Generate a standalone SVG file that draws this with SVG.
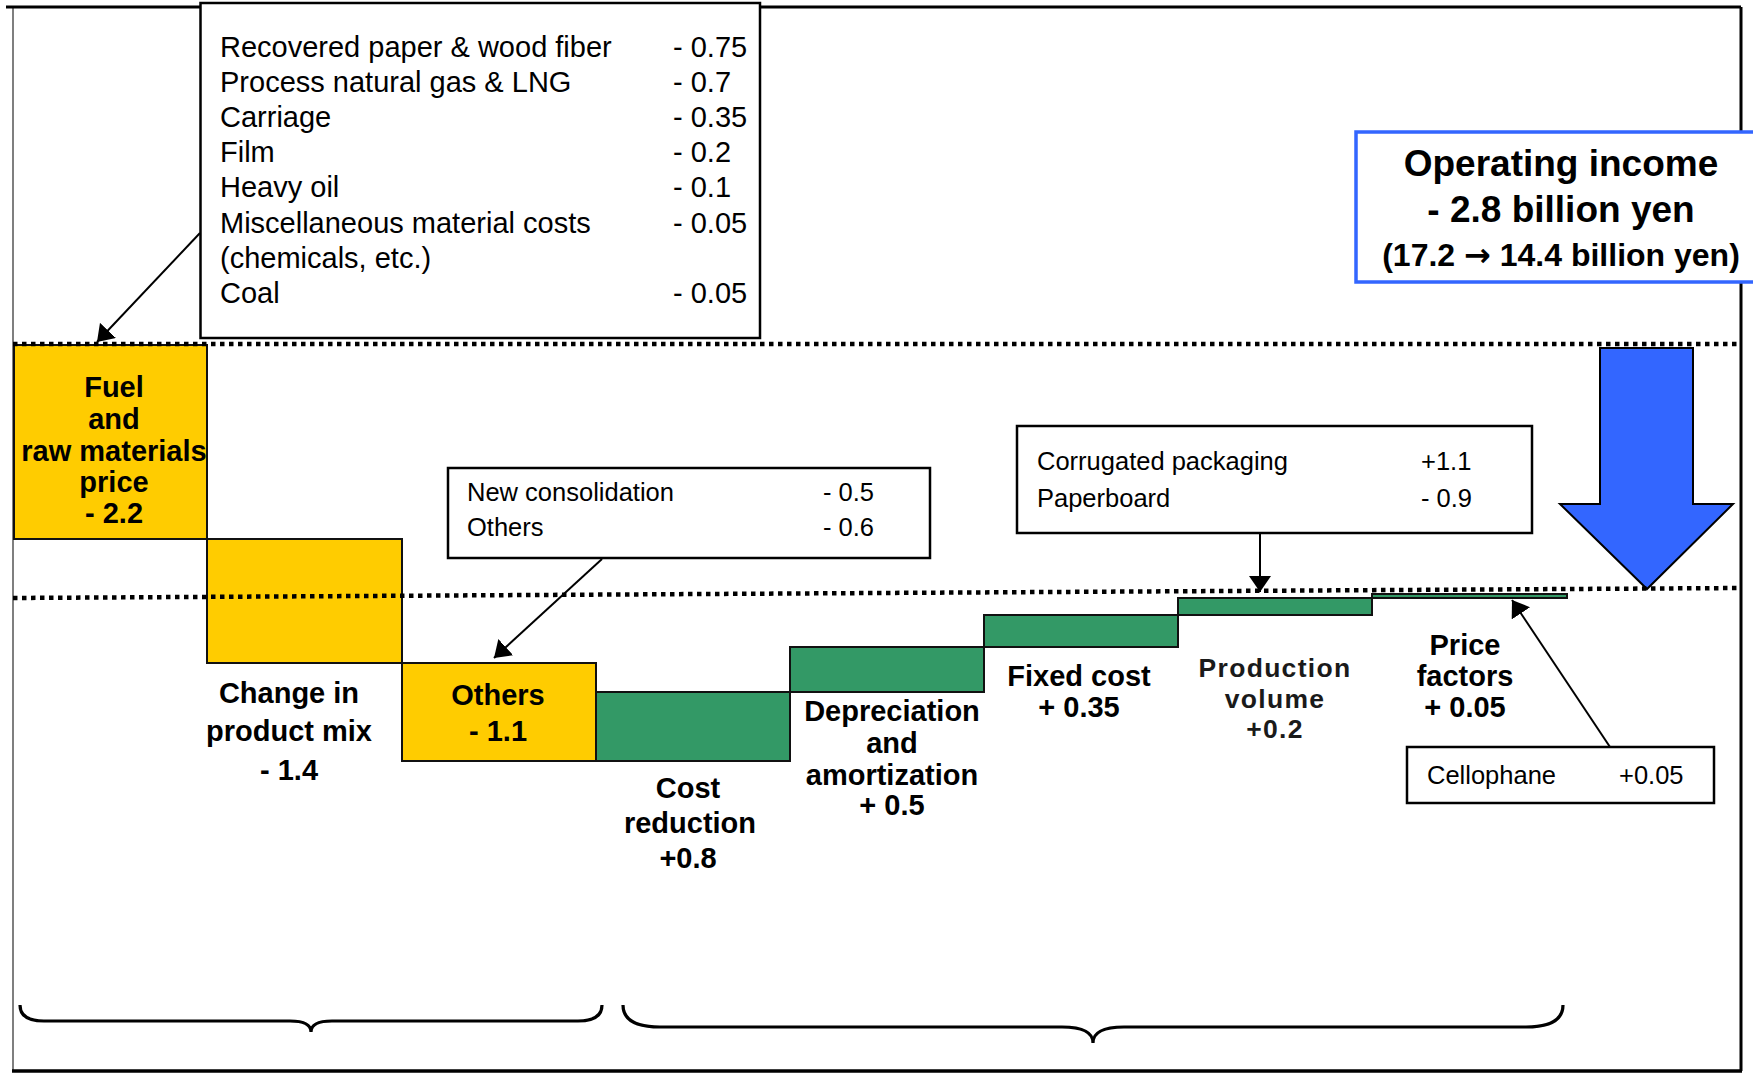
<svg xmlns="http://www.w3.org/2000/svg" width="1753" height="1073" viewBox="0 0 1753 1073">
<style>
  text { font-family: "Liberation Sans", Arial, Helvetica, sans-serif; fill: #000; }
  .reg { font-size: 29px; }
  .sm { font-size: 25.5px; }
  .lbl { font-size: 29px; font-weight: bold; text-anchor: middle; }
  .pv { font-size: 26.5px; font-weight: bold; text-anchor: middle; letter-spacing: 1.3px; fill: #1a1a1a; }
  .ttl { font-weight: bold; text-anchor: middle; }
  .arr { font-family: "DejaVu Sans", sans-serif; font-weight: bold; }
  .box { fill: #fff; stroke: #000; stroke-width: 2.5; }
  .yel { fill: #FFCC00; stroke: #111; stroke-width: 2; }
  .grn { fill: #339966; stroke: #111; stroke-width: 2; }
  .dot { fill: none; stroke: #000; stroke-width: 4.5; stroke-dasharray: 4.5 4.5; }
  .conn { fill: none; stroke: #000; stroke-width: 2; }
  .brace { fill: none; stroke: #000; stroke-width: 3.2; }
</style>
<defs>
  <marker id="ah" viewBox="0 0 16 22" markerWidth="16" markerHeight="22" refX="16" refY="11" orient="auto" markerUnits="userSpaceOnUse">
    <path d="M0,0 L16,11 L0,22 z" fill="#000"/>
  </marker>
</defs>
<rect width="1753" height="1073" fill="#fff"/>

<!-- frame -->
<g id="frame">
  <line x1="13" y1="7" x2="13" y2="1071" stroke="#555" stroke-width="1.5"/>
  <line x1="6" y1="7" x2="1741" y2="7" stroke="#000" stroke-width="3"/>
  <line x1="1741" y1="7" x2="1741" y2="1071" stroke="#000" stroke-width="3"/>
  <line x1="12" y1="1071" x2="1742" y2="1071" stroke="#000" stroke-width="3.5"/>
</g>

<!-- bars -->
<g id="bar-fuel"><rect class="yel" x="14" y="345" width="193" height="194"/></g>
<g id="bar-mix"><rect class="yel" x="207" y="539" width="195" height="124"/></g>
<g id="bar-others"><rect class="yel" x="402" y="663" width="194" height="98"/></g>
<g id="bar-cost"><rect class="grn" x="596" y="692" width="194" height="69"/></g>
<g id="bar-dep"><rect class="grn" x="790" y="647" width="194" height="45"/></g>
<g id="bar-fixed"><rect class="grn" x="984" y="615" width="194" height="32"/></g>
<g id="bar-prod"><rect class="grn" x="1178" y="598" width="194" height="17"/></g>
<g id="bar-price"><rect class="grn" x="1372" y="594" width="195" height="4"/></g>

<!-- blue arrow -->
<g id="total-arrow">
  <polygon points="1600,348 1693,348 1693,504 1733,504 1647,589 1560,504 1600,504" fill="#3366FF" stroke="#000" stroke-width="2"/>
</g>

<!-- dotted reference lines -->
<g id="reference-lines">
  <line class="dot" x1="13" y1="344" x2="1741" y2="344"/>
  <line class="dot" x1="13" y1="598" x2="1741" y2="588"/>
</g>

<!-- callout boxes -->
<g id="materials-box">
  <rect class="box" x="200.5" y="3" width="559.5" height="335"/>
  <text class="reg" x="220" y="57">Recovered paper &amp; wood fiber</text>
  <text class="reg" x="673" y="57">- 0.75</text>
  <text class="reg" x="220" y="92">Process natural gas &amp; LNG</text>
  <text class="reg" x="673" y="92">- 0.7</text>
  <text class="reg" x="220" y="127">Carriage</text>
  <text class="reg" x="673" y="127">- 0.35</text>
  <text class="reg" x="220" y="162">Film</text>
  <text class="reg" x="673" y="162">- 0.2</text>
  <text class="reg" x="220" y="197">Heavy oil</text>
  <text class="reg" x="673" y="197">- 0.1</text>
  <text class="reg" x="220" y="233">Miscellaneous material costs</text>
  <text class="reg" x="673" y="233">- 0.05</text>
  <text class="reg" x="220" y="268">(chemicals, etc.)</text>
  <text class="reg" x="220" y="303">Coal</text>
  <text class="reg" x="673" y="303">- 0.05</text>
</g>

<g id="operating-income">
  <rect x="1356" y="132" width="410" height="150" fill="#fff" stroke="#3366FF" stroke-width="3.5"/>
  <text class="ttl" x="1561" y="176" font-size="37">Operating income</text>
  <text class="ttl" x="1561" y="222" font-size="37">- 2.8 billion yen</text>
  <text class="ttl" x="1561" y="266" font-size="32">(17.2 <tspan class="arr">→</tspan> 14.4 billion yen)</text>
</g>

<g id="consolidation-box">
  <rect class="box" x="448" y="468" width="482" height="90"/>
  <text class="sm" x="467" y="501">New consolidation</text>
  <text class="sm" x="823" y="501">- 0.5</text>
  <text class="sm" x="467" y="536">Others</text>
  <text class="sm" x="823" y="536">- 0.6</text>
</g>

<g id="corrugated-box">
  <rect class="box" x="1017" y="426" width="515" height="107"/>
  <text class="sm" x="1037" y="470">Corrugated packaging</text>
  <text class="sm" x="1421" y="470">+1.1</text>
  <text class="sm" x="1037" y="507">Paperboard</text>
  <text class="sm" x="1421" y="507">- 0.9</text>
</g>

<g id="cellophane-box">
  <rect class="box" x="1407" y="747" width="307" height="56"/>
  <text class="sm" x="1427" y="784">Cellophane</text>
  <text class="sm" x="1619" y="784">+0.05</text>
</g>

<!-- bar labels -->
<g id="label-fuel">
  <text class="lbl" x="114" y="397">Fuel</text>
  <text class="lbl" x="114" y="429">and</text>
  <text class="lbl" x="114" y="461">raw materials</text>
  <text class="lbl" x="114" y="492">price</text>
  <text class="lbl" x="114" y="523">- 2.2</text>
</g>
<g id="label-mix">
  <text class="lbl" x="289" y="703">Change in</text>
  <text class="lbl" x="289" y="741">product mix</text>
  <text class="lbl" x="289" y="780">- 1.4</text>
</g>
<g id="label-others">
  <text class="lbl" x="498" y="705">Others</text>
  <text class="lbl" x="498" y="741">- 1.1</text>
</g>
<g id="label-cost">
  <text class="lbl" x="688" y="798">Cost</text>
  <text class="lbl" x="690" y="833">reduction</text>
  <text class="lbl" x="688" y="868">+0.8</text>
</g>
<g id="label-dep">
  <text class="lbl" x="892" y="721">Depreciation</text>
  <text class="lbl" x="892" y="753">and</text>
  <text class="lbl" x="892" y="785">amortization</text>
  <text class="lbl" x="892" y="815">+ 0.5</text>
</g>
<g id="label-fixed">
  <text class="lbl" x="1079" y="686">Fixed cost</text>
  <text class="lbl" x="1079" y="717">+ 0.35</text>
</g>
<g id="label-prod">
  <text class="pv" x="1275" y="677">Production</text>
  <text class="pv" x="1275" y="708">volume</text>
  <text class="pv" x="1275" y="738">+0.2</text>
</g>
<g id="label-price">
  <text class="lbl" x="1465" y="655">Price</text>
  <text class="lbl" x="1465" y="686">factors</text>
  <text class="lbl" x="1465" y="717">+ 0.05</text>
</g>

<!-- connectors -->
<g id="connectors">
  <line class="conn" x1="200" y1="233" x2="97" y2="342" marker-end="url(#ah)"/>
  <line class="conn" x1="602" y1="559" x2="494" y2="658" marker-end="url(#ah)"/>
  <line class="conn" x1="1260" y1="533" x2="1260" y2="592" marker-end="url(#ah)"/>
  <line class="conn" x1="1610" y1="747" x2="1512" y2="600" marker-end="url(#ah)"/>
</g>

<!-- braces -->
<g id="braces">
  <path class="brace" d="M20,1005 Q20,1021 44,1021 L290,1021 Q311,1021 311,1032 Q311,1021 332,1021 L578,1021 Q602,1021 602,1005"/>
  <path class="brace" d="M623,1005 Q623,1027 660,1027 L1062,1027 Q1093,1027 1093,1043 Q1093,1027 1124,1027 L1526,1027 Q1563,1027 1563,1005"/>
</g>
</svg>
